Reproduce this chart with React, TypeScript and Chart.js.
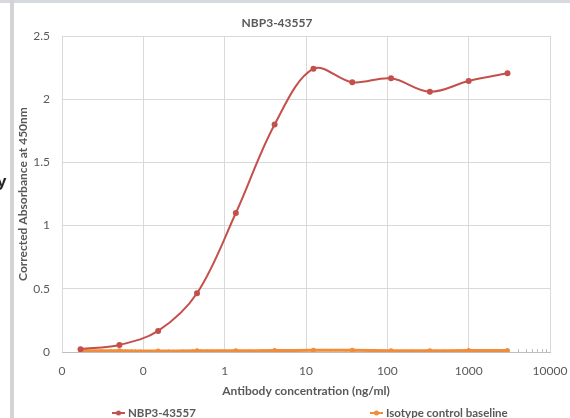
import React, { useEffect, useRef } from "react";
import { Chart, registerables } from "chart.js";

Chart.register(...registerables);

const chartTitle = "NBP3-43557";
const xAxisTitle = "Antibody concentration (ng/ml)";
const yAxisTitle = "Corrected Absorbance at 450nm";
const seriesNames = ["NBP3-43557", "Isotype control baseline"];

// antibody concentrations (ng/ml), 3-fold dilution series
const concentrations = [0.0169, 0.0508, 0.152, 0.457, 1.372, 4.115, 12.35, 37.04, 111.1, 333.3, 1000, 3000];
const nbp3Values = [0.022, 0.056, 0.167, 0.465, 1.1, 1.8, 2.241, 2.134, 2.165, 2.059, 2.144, 2.205];
const isotypeValues = [0.01, 0.009, 0.008, 0.009, 0.01, 0.011, 0.013, 0.014, 0.01, 0.009, 0.012, 0.012];

const xTickValues = [0.01, 0.1, 1, 10, 100, 1000, 10000];
const yTickStep = 0.5;
const yMax = 2.5;

const RED = "#C4504B";
const ORANGE = "#F08D3A";
const TEXT = "#595959";
const GRID = "#D9D9D9";
const FONT = "Lato, 'Open Sans', sans-serif";

const decorPlugin = {
  id: "decor",
  beforeDatasetsDraw(chart: any) {
    const ctx = chart.ctx;
    const xs = chart.scales.x;
    const bottom = chart.chartArea.bottom;
    ctx.save();
    ctx.strokeStyle = "#BFBFBF";
    ctx.lineWidth = 1;
    for (let d = 0.01; d < 10000; d *= 10) {
      for (let k = 2; k <= 9; k++) {
        const x = Math.round(xs.getPixelForValue(k * d)) + 0.5;
        ctx.beginPath();
        ctx.moveTo(x, bottom);
        ctx.lineTo(x, bottom - 3);
        ctx.stroke();
      }
    }
    ctx.restore();
  },
  afterDraw(chart: any) {
    const ctx = chart.ctx;
    ctx.save();
    ctx.fillStyle = TEXT;
    ctx.font = `bold 12px ${FONT}`;
    ctx.textAlign = "center";
    ctx.textBaseline = "middle";
    ctx.fillText(chartTitle, 277, 23);

    const items = [
      { x: 112, color: RED, label: seriesNames[0] },
      { x: 370, color: ORANGE, label: seriesNames[1] },
    ];
    const y = 413;
    ctx.font = `bold 11.5px ${FONT}`;
    ctx.textAlign = "left";
    for (const it of items) {
      ctx.strokeStyle = it.color;
      ctx.lineWidth = 2;
      ctx.beginPath();
      ctx.moveTo(it.x, y);
      ctx.lineTo(it.x + 13, y);
      ctx.stroke();
      ctx.fillStyle = it.color;
      ctx.beginPath();
      ctx.arc(it.x + 6.5, y, 2.5, 0, Math.PI * 2);
      ctx.fill();
      ctx.fillStyle = TEXT;
      ctx.fillText(it.label, it.x + 16, y);
    }
    ctx.restore();
  },
};

export default function App() {
  const ref = useRef<HTMLCanvasElement>(null);
  useEffect(() => {
    if (!ref.current) return;
    const chart = new Chart(ref.current, {
      type: "line",
      data: {
        datasets: [
          {
            label: seriesNames[0],
            data: concentrations.map((c, i) => ({ x: c, y: nbp3Values[i] })),
            borderColor: RED,
            backgroundColor: RED,
            borderWidth: 2,
            pointRadius: 3,
            pointBorderWidth: 0,
            tension: 0.35,
          },
          {
            label: seriesNames[1],
            data: concentrations.map((c, i) => ({ x: c, y: isotypeValues[i] })),
            borderColor: ORANGE,
            backgroundColor: ORANGE,
            borderWidth: 3,
            pointRadius: 2.5,
            pointBorderWidth: 0,
            tension: 0.35,
          },
        ],
      },
      options: {
        animation: false,
        responsive: false,
        layout: { padding: { left: 0, right: 20, top: 36, bottom: 20 } },
        plugins: {
          legend: { display: false },
          title: { display: false },
          tooltip: { enabled: false },
        },
        scales: {
          x: {
            type: "logarithmic",
            min: 0.01,
            max: 10000,
            afterBuildTicks: (scale: any) => {
              scale.ticks = xTickValues.map((v) => ({ value: v }));
            },
            afterFit: (scale: any) => {
              scale.height = 46;
              scale.paddingLeft = 0;
              scale.paddingRight = 0;
            },
            grid: { color: GRID, drawTicks: false },
            border: { color: "#BFBFBF" },
            ticks: {
              color: TEXT,
              font: { family: FONT, size: 12 },
              padding: 12,
              maxRotation: 0,
              autoSkip: false,
              callback: (v: any) => (Number(v) < 1 ? "0" : String(Number(v))),
            },
            title: {
              display: true,
              text: xAxisTitle,
              color: TEXT,
              font: { family: FONT, size: 12, weight: "bold" },
              padding: { top: 0, bottom: 0 },
            },
          },
          y: {
            min: 0,
            max: yMax,
            afterFit: (scale: any) => {
              scale.width = 62;
              scale.paddingTop = 0;
              scale.paddingBottom = 0;
            },
            grid: { color: GRID, drawTicks: false },
            border: { display: false },
            ticks: {
              stepSize: yTickStep,
              color: TEXT,
              font: { family: FONT, size: 12 },
              padding: 12,
              callback: (v: any) => String(Number(v)),
            },
            title: {
              display: true,
              text: yAxisTitle,
              color: TEXT,
              font: { family: FONT, size: 12, weight: "bold" },
              padding: { top: 16, bottom: 0 },
            },
          },
        },
      },
      plugins: [decorPlugin],
    });
    return () => chart.destroy();
  }, []);

  return (
    <div style={{ position: "fixed", left: 0, top: 0, width: 570, height: 418, background: "#fff", overflow: "hidden" }}>
      <canvas ref={ref} width={570} height={418} style={{ position: "absolute", left: 0, top: 0, width: 570, height: 418 }} />
      <div style={{ position: "absolute", left: 0, top: 0, width: 570, height: 3, background: "#D6D9DE" }} />
      <div style={{ position: "absolute", left: 10, top: 0, width: 4, height: 418, background: "#D4D4D4" }} />
      <span style={{ position: "absolute", left: -3, top: 173, fontFamily: "'Liberation Sans', sans-serif", fontWeight: "bold", fontSize: 17, lineHeight: 1, color: "#222" }}>y</span>
    </div>
  );
}
